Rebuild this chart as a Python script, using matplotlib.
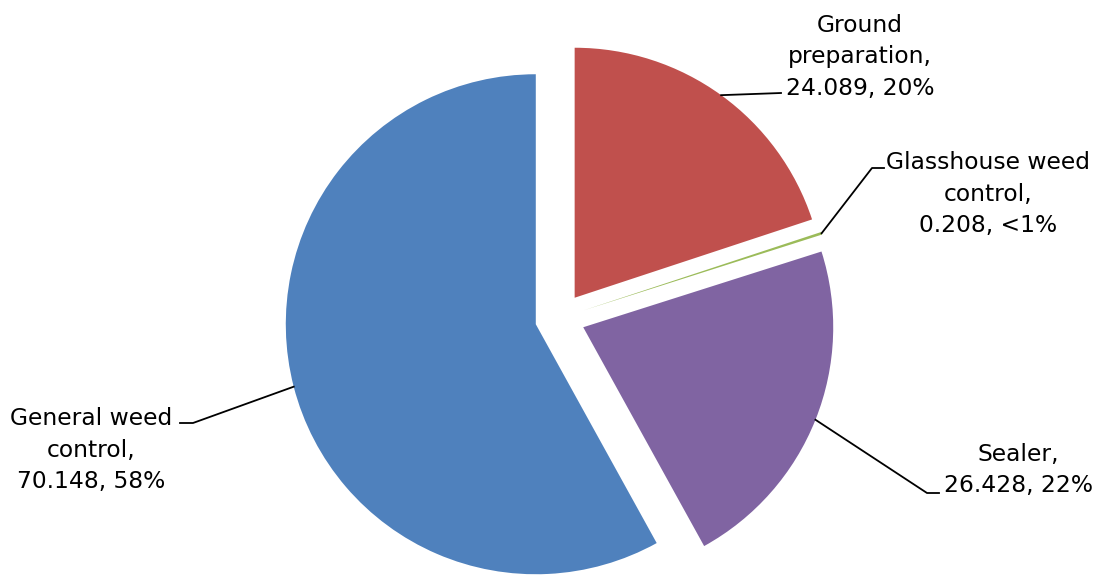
import numpy as np
import matplotlib.pyplot as plt

labels = ["Ground\npreparation", "Glasshouse weed\ncontrol", "Sealer", "General weed\ncontrol"]
values = [24.089, 0.208, 26.428, 70.148]
pct_text = ["20%", "<1%", "22%", "58%"]
colors = ["#C0504D", "#9BBB59", "#8064A2", "#4F81BD"]

W, H = 1097, 577
R_PX = 250.0          # pie radius in pixels
CX, CY = 560.0, 318.0  # pie centre in pixels (image coords)

fig = plt.figure(figsize=(W / 100, H / 100), dpi=100)
ax = fig.add_axes([0, 0, 1, 1])

explode = [0.1] * len(values)
wedges, _ = ax.pie(values, colors=colors, explode=explode, startangle=90,
                   counterclock=False, radius=1.0,
                   wedgeprops=dict(linewidth=0))

# pie() resets the limits, so set them afterwards
ax.set_xlim(-CX / R_PX, (W - CX) / R_PX)
ax.set_ylim(-(H - CY) / R_PX, CY / R_PX)
ax.set_aspect("equal")
ax.axis("off")


def px(x, y):
    return (x - CX) / R_PX, (CY - y) / R_PX


# label text centres and leader elbow points (pixels)
label_pos = [(860, 57), (988, 194), (1018, 470), (91, 450)]
elbows = [[(781, 93)], [(872, 168), (884, 168)], [(927, 493), (939, 493)], [(193, 423), (180, 423)]]

for w, lab, v, p, pos, elb in zip(wedges, labels, values, pct_text, label_pos, elbows):
    ang = np.deg2rad((w.theta1 + w.theta2) / 2)
    cx, cy = w.center
    sx, sy = cx + w.r * np.cos(ang), cy + w.r * np.sin(ang)
    pts = [(sx, sy)] + [px(*e) for e in elb]
    ax.plot([q[0] for q in pts], [q[1] for q in pts], color="black", lw=1.3)
    tx, ty = px(*pos)
    ax.text(tx, ty, f"{lab},\n{v:.3f}, {p}", ha="center", va="center",
            multialignment="center", fontsize=16.8, family="DejaVu Sans",
            linespacing=1.47)

fig.savefig("out.png", dpi=100)
